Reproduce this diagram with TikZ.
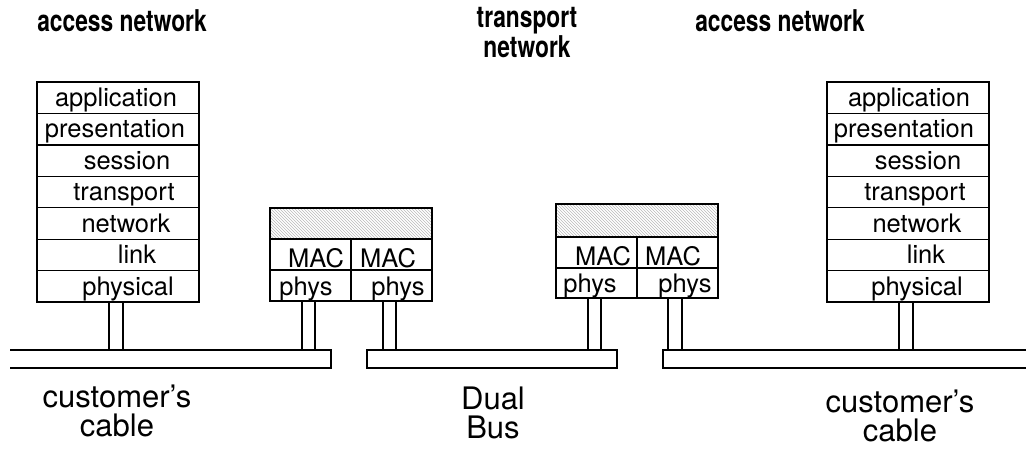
\documentclass[tikz,border=0pt]{standalone}
\usepackage{fontspec}
\setmainfont{TeX Gyre Heros}
\newfontfamily\titlefont[FakeStretch=0.76]{TeX Gyre Heros}
\usetikzlibrary{patterns}
\tikzset{
  wire/.style={line width=1.3pt},
  cell/.style={draw, line width=1.3pt, inner sep=0pt, outer sep=0pt, anchor=north west},
  layer/.style={cell, minimum width=162pt, minimum height=31.43pt},
  half/.style={cell, minimum width=81pt, minimum height=31pt},
  hatchbox/.style={cell, minimum width=162pt, minimum height=31pt, pattern=north west lines, pattern color=gray!55},
  ltext/.style={anchor=base, inner sep=0pt, font=\fontsize{25.5}{25}\selectfont},
  ttext/.style={anchor=base, inner sep=0pt, align=center, font=\titlefont\fontsize{30}{26}\bfseries\selectfont},
  btext/.style={anchor=base, inner sep=0pt, align=center, font=\fontsize{31}{29}\selectfont},
}
\begin{document}
\begin{tikzpicture}[x=1pt,y=-1pt]
\useasboundingbox (0,0) rectangle (1026,448);

% titles
\node[ttext] (t1) at (122,31) {access network};
\node[ttext] (t2) at (527,57) {transport\\network};
\node[ttext] (t3) at (780,31) {access network};

% left OSI stack
\foreach \n/\cx [count=\i from 0] in {application/116,presentation/115,session/127,transport/124,network/126,link/137,physical/128}{
  \node[layer] (L\i) at (37,{82+\i*31.43}) {};
  \node[ltext] (Lt\i) at (\cx,{82+(\i+1)*31.43-7}) {\n};
}
% right OSI stack
\foreach \n/\cx [count=\i from 0] in {application/909,presentation/904,session/918,transport/915,network/917,link/926,physical/917}{
  \node[layer] (R\i) at (827,{82+\i*31.43}) {};
  \node[ltext] (Rt\i) at (\cx,{82+(\i+1)*31.43-7}) {\n};
}

% MAC bridge 1
\node[hatchbox] (H1) at (270,208) {};
\node[half] (M1a) at (270,239) {};
\node[half] (M1b) at (351,239) {};
\node[half] (P1a) at (270,270) {};
\node[half] (P1b) at (351,270) {};
\node[ltext] (M1at) at (316,267) {MAC};
\node[ltext] (M1bt) at (388,267) {MAC};
\node[ltext] (P1at) at (306,295) {phys};
\node[ltext] (P1bt) at (398,295) {phys};

% MAC bridge 2
\node[hatchbox, minimum height=33pt] (H2) at (556,204) {};
\node[half] (M2a) at (556,237) {};
\node[half] (M2b) at (637,237) {};
\node[half, minimum height=30pt] (P2a) at (556,268) {};
\node[half, minimum height=30pt] (P2b) at (637,268) {};
\node[ltext] (M2at) at (603,265) {MAC};
\node[ltext] (M2bt) at (673,265) {MAC};
\node[ltext] (P2at) at (590,292) {phys};
\node[ltext] (P2bt) at (685,292) {phys};

% buses
\coordinate (b1l) at (10,350);
\coordinate (b1r) at (331,368);
\coordinate (b2l) at (367,350);
\coordinate (b2r) at (617,368);
\coordinate (b3l) at (663,350);
\coordinate (b3r) at (1026,368);
\draw[wire] (b1l) -- (b1l -| b1r) -- (b1r) -- (b1l |- b1r);
\draw[wire] (b2l) rectangle (b2r);
\draw[wire] (b3r |- b3l) -- (b3l) -- (b3l |- b3r) -- (b3r);

% stems
\foreach \x/\nd/\bus in {109/L6/b1l,123/L6/b1l,302/P1a/b1l,315/P1a/b1l,383/P1b/b2l,396/P1b/b2l,588/P2a/b2l,601/P2a/b2l,668/P2b/b3l,682/P2b/b3l,899/R6/b3l,913/R6/b3l}{
  \coordinate (s\x) at (\x,0);
  \draw[wire] (s\x |- \nd.south) -- (s\x |- \bus);
}

% bottom labels
\node[btext] (c1) at (117,436) {customer's\\cable};
\node[btext] (c2) at (493,438) {Dual\\Bus};
\node[btext] (c3) at (900,441) {customer's\\cable};
\end{tikzpicture}
\end{document}
